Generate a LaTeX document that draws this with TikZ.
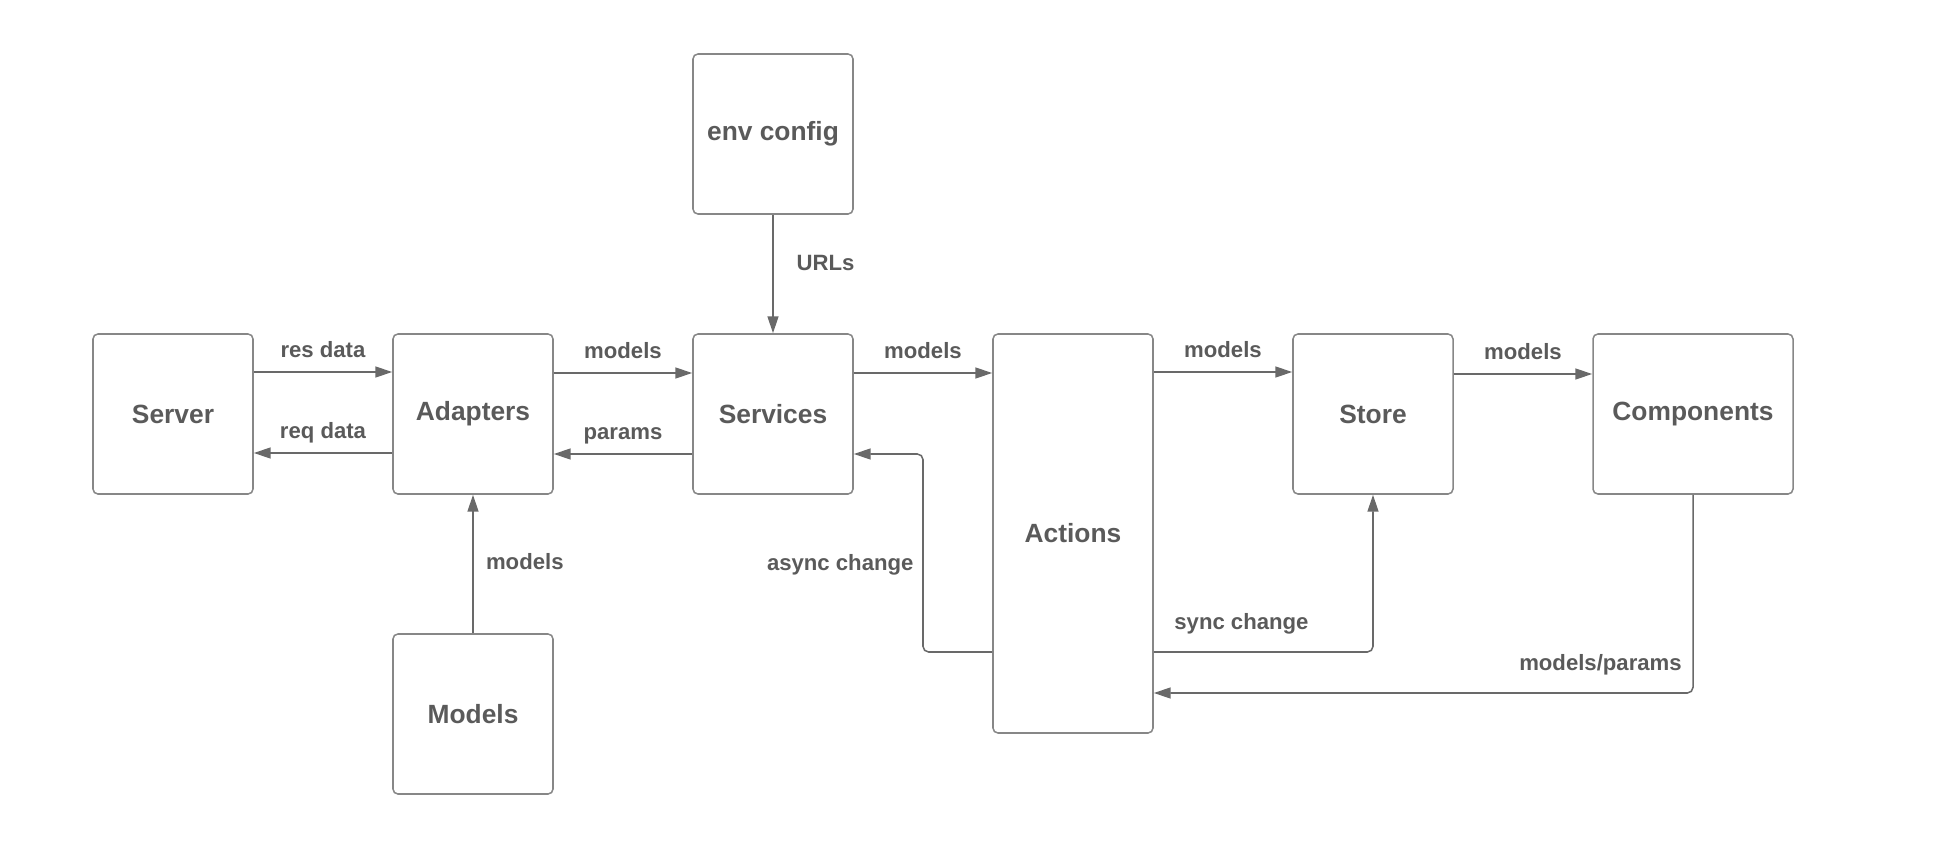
\documentclass[tikz,border=0pt]{standalone}
\usepackage{fontspec}
\setmainfont{Liberation Sans}
\usetikzlibrary{arrows.meta}

\definecolor{txtgray}{RGB}{90,90,90}
\definecolor{linegray}{RGB}{105,105,105}
\definecolor{boxgray}{RGB}{135,135,135}

\begin{document}
\begin{tikzpicture}[>={Triangle[length=4.8pt, width=3.1pt]}, line width=0.43pt,
                block/.style={rectangle, draw=boxgray, rounded corners=1.4pt, minimum width=1.6cm, minimum height=1.6cm,
                              align=center, text=txtgray, font=\fontsize{7.5}{8}\selectfont\bfseries},
                conn/.style={->, draw=linegray, rounded corners=1.6pt},
                elabel/.style={text=txtgray, font=\fontsize{6.3}{7}\selectfont\bfseries,
                               text height=4.6pt, text depth=1.3pt, inner sep=2.5pt}
            ]
            \useasboundingbox (0,0) rectangle (19.47,8.65);

            % Blocks
            \node[block] (server) at (1.73, 4.51) {Server};
            \node[block] (adapters) at (4.73, 4.51) {Adapters};
            \node[block] (services) at (7.73, 4.51) {Services};
            \node[block] (env) at (7.73, 7.31) {env config};
            \node[block, minimum height=3.99cm] (actions) at (10.73, 3.315) {Actions};
            \node[block] (store) at (13.73, 4.51) {Store};
            \node[block, minimum width=2cm] (components) at (16.93, 4.51) {Components};
            \node[block] (models) at (4.73, 1.51) {Models};

            % Server <-> Adapters
            \draw[conn] (server.east |- 0,4.93) -- node[elabel, above] {res data} (adapters.west |- 0,4.93);
            \draw[conn] (adapters.west |- 0,4.12) -- node[elabel, above] {req data} (server.east |- 0,4.12);

            % Adapters <-> Services
            \draw[conn] (adapters.east |- 0,4.92) -- node[elabel, above] {models} (services.west |- 0,4.92);
            \draw[conn] (services.west |- 0,4.11) -- node[elabel, above] {params} (adapters.east |- 0,4.11);

            % env config -> Services
            \draw[conn] (env.south) -- node[elabel, right, pos=0.42, xshift=4pt] {URLs} (services.north);

            % Models -> Adapters
            \draw[conn] (models.north) -- node[elabel, right, midway, xshift=1pt] {models} (adapters.south);

            % Services -> Actions -> Store -> Components
            \draw[conn] (services.east |- 0,4.92) -- node[elabel, above] {models} (actions.west |- 0,4.92);
            \draw[conn] (actions.east |- 0,4.93) -- node[elabel, above] {models} (store.west |- 0,4.93);
            \draw[conn] (store.east |- 0,4.91) -- node[elabel, above] {models} (components.west |- 0,4.91);

            % async change
            \draw[conn] (actions.west |- 0,2.13) -| node[elabel, left, pos=0.72] {async change} (9.23,4.11) -- (services.east |- 0,4.11);

            % sync change
            \draw[conn] (actions.east |- 0,2.13) -| node[elabel, above, pos=0.2, yshift=2.5pt] {sync change} (store.south);

            % models/params
            \draw[conn] (components.south) |- node[elabel, above left, pos=0.5, yshift=2.5pt, xshift=-0.5pt] {models/params} (actions.east |- 0,1.72);

        \end{tikzpicture}
\end{document}
